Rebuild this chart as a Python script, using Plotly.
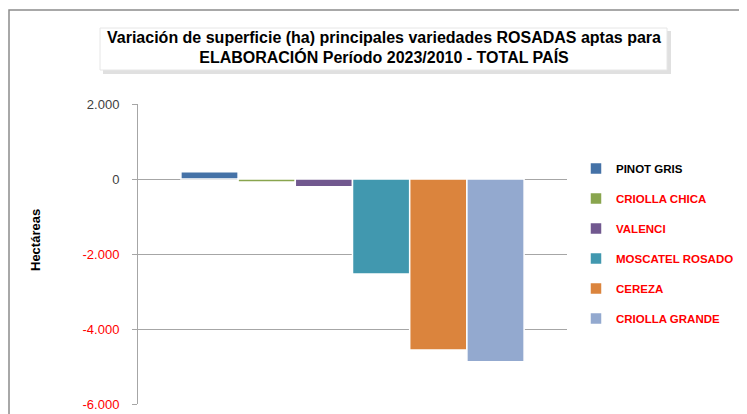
import plotly.graph_objects as go

# ---- data ----
varieties = ["PINOT GRIS", "CRIOLLA CHICA", "VALENCI", "MOSCATEL ROSADO", "CEREZA", "CRIOLLA GRANDE"]
variation_ha = [195, -80, -205, -2535, -4560, -4870]
label_colors = ["#000000", "#FF0000", "#FF0000", "#FF0000", "#FF0000", "#FF0000"]
bar_colors = ["#4572A7", "#89A54E", "#71588F", "#4198AF", "#DB843D", "#93A9CF"]
tick_values = [-6000, -4000, -2000, 0, 2000]
tick_labels = ["-6.000", "-4.000", "-2.000", "0", "2.000"]
tick_label_colors = ["#FF0000", "#FF0000", "#FF0000", "#404040", "#404040"]
category = ["2023/2010"]

title_text = ("Variación de superficie (ha) principales variedades ROSADAS aptas para<br>"
              "ELABORACIÓN Período 2023/2010 - TOTAL PAÍS")

fig = go.Figure()
for name, val, bc, lc in zip(varieties, variation_ha, bar_colors, label_colors):
    fig.add_trace(go.Bar(
        x=category, y=[val],
        name=f"<span style='color:{lc}'><b>{name}</b></span>",
        legendgroup=name,
        marker=dict(color=bc, line=dict(color="white", width=1.5)),
        hoverinfo="y+name",
    ))

# the page body adds an 8px margin, so the figure is 8px smaller and all
# reference positions are shifted by -8
OFF = 8
W, H = 747 - OFF, 414 - OFF
L, T = 138 - OFF, 104 - OFF
R, B = W - (567 - OFF), H - (404 - OFF)
pw, ph = W - L - R, H - T - B

def px(x):
    return (x - OFF - L) / pw

def py(y):
    return (H - B - (y - OFF)) / ph

shapes = [
    # outer chart border
    dict(type="rect", xref="paper", yref="paper", x0=px(9), x1=px(770), y0=py(440), y1=py(10),
         line=dict(color="#8C8C8C", width=1.5), fillcolor="rgba(0,0,0,0)", layer="below"),
    # title box shadow
    dict(type="rect", xref="paper", yref="paper", x0=px(103), x1=px(671), y0=py(74), y1=py(31),
         line=dict(width=0), fillcolor="rgba(0,0,0,0.12)", layer="below"),
    # title box
    dict(type="rect", xref="paper", yref="paper", x0=px(100), x1=px(667), y0=py(70), y1=py(28),
         line=dict(color="#E6E6E6", width=1), fillcolor="white", layer="below"),
]

fig.update_layout(
    width=W, height=H,
    margin=dict(l=L, r=R, t=T, b=B, autoexpand=False),
    paper_bgcolor="white", plot_bgcolor="white",
    font=dict(family="Liberation Sans, Arial, sans-serif", color="#000000"),
    barmode="group", bargap=0.2, bargroupgap=0,
    title=dict(text="<b>" + title_text + "</b>", x=(384 - OFF) / W, xanchor="center",
               y=1 - 34.5 / H, yanchor="middle",
               font=dict(size=16, color="#000000")),
    showlegend=True,
    legend=dict(xref="container", yref="container", x=568 / W, xanchor="left",
                y=1 - 146 / H, yanchor="top",
                tracegroupgap=11, font=dict(size=11.5, color="#000000", family="Liberation Sans, Arial, sans-serif"),
                itemclick=False, bgcolor="rgba(0,0,0,0)"),
    shapes=shapes,
    annotations=[dict(text="<b>Hectáreas</b>", xref="paper", yref="paper",
                      x=px(35), y=py(240), textangle=-90, showarrow=False,
                      font=dict(size=13, color="#000000"), xanchor="center", yanchor="middle")],
)

fig.update_xaxes(showticklabels=False, showgrid=False, showline=False, zeroline=False, ticks="")
fig.update_yaxes(
    range=[-6000, 2000],
    tickvals=tick_values,
    ticktext=[f"<span style='color:{c}'>{t}</span>" for t, c in zip(tick_labels, tick_label_colors)],
    tickfont=dict(size=13, color="#404040"),
    showgrid=True, gridcolor="#A6A6A6", gridwidth=1,
    zeroline=True, zerolinecolor="#A6A6A6", zerolinewidth=1,
    showline=True, linecolor="#A6A6A6", linewidth=1,
    ticks="outside", ticklen=5, tickcolor="#A6A6A6",
    ticklabelstandoff=10,
    automargin=False,
)

fig.write_html("out.html")
